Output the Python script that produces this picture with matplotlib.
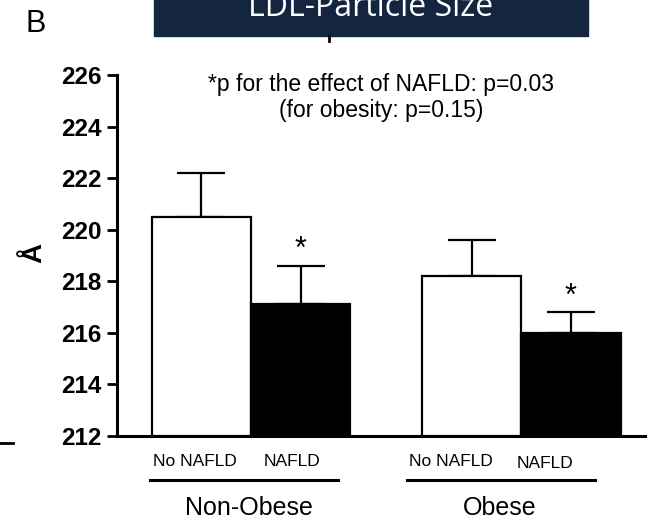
import matplotlib.pyplot as plt
from matplotlib.patches import Rectangle
from matplotlib.lines import Line2D

# values (Å)
groups = ["Non-Obese", "Obese"]
bar_labels = ["No NAFLD", "NAFLD", "No NAFLD", "NAFLD"]
means = [220.5, 217.1, 218.2, 216.0]
sem = [1.7, 1.5, 1.4, 0.8]
colors = ["white", "black", "white", "black"]
starred = [False, True, False, True]

positions = [0, 1, 2.72, 3.72]
label_x = [-0.07, 0.91, 2.51, 3.46]

W, H = 648, 521
plt.rcParams["font.family"] = ["Liberation Sans", "DejaVu Sans"]
fig = plt.figure(figsize=(W / 100, H / 100), dpi=100)


def fx(px):
    return px / W


def fy(py):
    return 1 - py / H


ax = fig.add_axes([fx(117), fy(436), fx(645) - fx(117), fy(75) - fy(436)])


def ay(py):
    return (fy(py) - fy(436)) / (fy(75) - fy(436))


ax.bar(positions, [m - 212 for m in means], bottom=212, width=1.0,
       color=colors, edgecolor="black", linewidth=1.6, zorder=3)
ax.errorbar(positions, means, yerr=[[0] * 4, sem], fmt="none", ecolor="black",
            elinewidth=1.6, capsize=17.5, capthick=1.6, zorder=2)

for x, m, s, st in zip(positions, means, sem, starred):
    if st:
        ax.text(x, m + s + 0.6, "*", ha="center", va="center", fontsize=22)

ax.set_xlim(-0.85, 4.465)
ax.set_ylim(212, 226)
ax.set_yticks(range(212, 227, 2))
ax.set_xticks([])
for lab in ax.get_yticklabels():
    lab.set_fontweight("bold")
    lab.set_fontsize(17.5)
ax.tick_params(axis="y", length=7, width=2, pad=4)
for side in ["top", "right"]:
    ax.spines[side].set_visible(False)
ax.spines["left"].set_linewidth(2.2)
ax.spines["bottom"].set_linewidth(2.2)

ax.set_ylabel("Å", fontsize=20, fontweight="bold")
ax.yaxis.set_label_coords((47 - 117) / 528, ay(253))

fig.text(0.5 * (fx(207) + fx(555)), fy(73), "*p for the effect of NAFLD: p=0.03\n(for obesity: p=0.15)",
         ha="center", va="top", fontsize=16.5, linespacing=1.15)

trans = ax.get_xaxis_transform()

for x, lab, dy in zip(label_x, bar_labels, [0, 0, 0, 2]):
    ax.text(x, ay(461 + dy), lab, transform=trans, ha="center", va="center",
            fontsize=12.5)

# group underlines and names
for x0, x1, name, cx in [(-0.52, 1.37, groups[0], 0.48), (2.07, 3.96, groups[1], 3.0)]:
    ax.add_line(Line2D([x0, x1], [ay(480), ay(480)], transform=trans, color="black",
                       linewidth=2.2, clip_on=False))
    ax.text(cx, ay(508), name, transform=trans, ha="center", va="center", fontsize=18)

# title banner
fig.patches.append(Rectangle((fx(154), fy(36)), fx(588) - fx(154), 0.2,
                             transform=fig.transFigure, color="#13253f", zorder=0))
fig.text(fx(371), fy(16), "LDL-Particle Size", color="white", ha="center",
         va="baseline", fontsize=23, family=["Open Sans", "DejaVu Sans"])
fig.lines.append(Line2D([fx(329), fx(329)], [fy(36), fy(41)], transform=fig.transFigure,
                        color="black", linewidth=2))
fig.lines.append(Line2D([0, fx(13)], [fy(443), fy(443)], transform=fig.transFigure,
                        color="black", linewidth=2))

fig.text(fx(36), fy(24), "B", ha="center", va="center", fontsize=22)

fig.savefig("out.png", dpi=100)
